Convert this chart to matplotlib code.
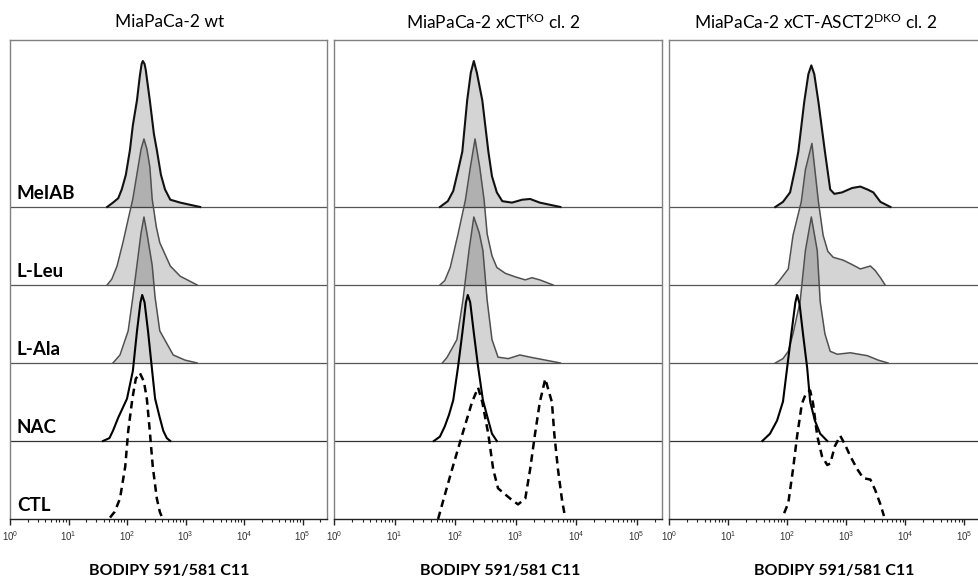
import numpy as np
import matplotlib
matplotlib.use("Agg")
import matplotlib.pyplot as plt
from matplotlib.ticker import FixedLocator, LogLocator, NullFormatter

plt.rcParams['font.family'] = ['Lato', 'DejaVu Sans']
plt.rcParams['mathtext.default'] = 'regular'

panel_titles = ["MiaPaCa-2 wt",
                "MiaPaCa-2 xCT$^{KO}$ cl. 2",
                "MiaPaCa-2 xCT-ASCT2$^{DKO}$ cl. 2"]
row_labels = ["MeIAB", "L-Leu", "L-Ala", "NAC", "CTL"]
x_label = "BODIPY 591/581 C11"
decade_ticks = [1e0, 1e1, 1e2, 1e3, 1e4, 1e5]
decade_labels = ["$10^{%d}$" % i for i in range(6)]

# histograms: log10 intensity, height in % of peak
wt_meiab_logx = [1.66, 1.76, 1.85, 1.91, 1.98, 2.05, 2.10, 2.17, 2.22, 2.25, 2.27, 2.30, 2.32, 2.39, 2.46, 2.51, 2.58, 2.65, 2.74, 2.91, 3.08, 3.25]
wt_meiab_h = [0, 3, 6, 12, 22, 39, 56, 73, 90, 98, 100, 98, 94, 73, 50, 39, 22, 12, 5, 3, 1.5, 0]
wt_leu_logx = [1.66, 1.74, 1.83, 1.93, 2.02, 2.10, 2.17, 2.24, 2.29, 2.34, 2.39, 2.43, 2.50, 2.56, 2.74, 2.91, 3.20]
wt_leu_h = [0, 4, 13, 29, 45, 59, 76, 93, 100, 93, 81, 59, 40, 29, 13, 6, 0]
wt_ala_logx = [1.76, 1.88, 2.02, 2.10, 2.17, 2.24, 2.29, 2.34, 2.43, 2.48, 2.56, 2.79, 2.99, 3.20]
wt_ala_h = [0, 5.5, 22, 45, 67, 89, 100, 89, 67, 45, 22, 5.5, 2, 0]
wt_nac_logx = [1.59, 1.70, 1.76, 1.85, 2.00, 2.10, 2.17, 2.23, 2.26, 2.30, 2.36, 2.43, 2.48, 2.56, 2.62, 2.68, 2.74]
wt_nac_h = [0, 2, 7, 16, 29, 48, 75, 95, 100, 95, 75, 48, 29, 16, 7, 2, 0]
wt_ctl_logx = [1.71, 1.79, 1.88, 1.97, 2.02, 2.09, 2.15, 2.22, 2.29, 2.34, 2.39, 2.44, 2.51, 2.56, 2.60]
wt_ctl_h = [1, 5, 14, 36, 60, 82, 96, 100, 94, 82, 60, 36, 14, 5, 1]

ko_meiab_logx = [1.75, 1.88, 1.97, 2.05, 2.12, 2.20, 2.26, 2.31, 2.36, 2.45, 2.55, 2.61, 2.69, 2.78, 2.94, 3.11, 3.24, 3.40, 3.57, 3.74]
ko_meiab_h = [0, 4, 11, 25, 38, 73, 92, 100, 92, 73, 38, 21, 10, 4, 3, 5, 5.5, 3, 1.5, 0]
ko_leu_logx = [1.75, 1.83, 1.92, 2.05, 2.17, 2.25, 2.33, 2.41, 2.48, 2.53, 2.61, 2.69, 2.83, 3.00, 3.16, 3.27, 3.40, 3.62]
ko_leu_h = [0, 3, 12, 35, 58, 80, 100, 80, 58, 35, 20, 12, 8, 5.5, 3.5, 5, 3.5, 0]
ko_ala_logx = [1.79, 1.87, 2.03, 2.13, 2.23, 2.31, 2.40, 2.46, 2.53, 2.61, 2.71, 2.88, 3.07, 3.24, 3.49, 3.74]
ko_ala_h = [0, 4, 16, 43, 77, 100, 89, 77, 43, 16, 4, 3, 5.5, 4, 2, 0]
ko_nac_logx = [1.65, 1.75, 1.83, 1.90, 1.97, 2.05, 2.12, 2.18, 2.21, 2.25, 2.31, 2.38, 2.46, 2.55, 2.61, 2.69]
ko_nac_h = [0, 3, 10, 18, 28, 51, 74, 95, 100, 95, 74, 51, 28, 14, 5, 0]
ko_ctl_logx = [1.72, 1.80, 1.95, 2.12, 2.28, 2.38, 2.45, 2.55, 2.63, 2.71, 2.91, 3.04, 3.16, 3.24, 3.32, 3.40, 3.49, 3.60, 3.64, 3.70, 3.77, 3.82]
ko_ctl_h = [0, 12, 34, 58, 80, 90, 80, 58, 34, 21, 14, 10, 14, 34, 58, 80, 96, 80, 58, 34, 12, 1]

dko_meiab_logx = [1.80, 1.93, 2.05, 2.14, 2.19, 2.29, 2.36, 2.41, 2.46, 2.53, 2.64, 2.73, 2.80, 2.93, 3.10, 3.24, 3.36, 3.46, 3.58, 3.75]
dko_meiab_h = [0, 3.5, 10, 27, 38, 72, 91, 97, 91, 72, 38, 12, 9, 10, 13, 14, 12, 10, 3.5, 0]
dko_leu_logx = [1.80, 1.85, 2.02, 2.10, 2.24, 2.31, 2.42, 2.47, 2.53, 2.61, 2.69, 2.78, 2.95, 3.10, 3.24, 3.41, 3.49, 3.58, 3.66]
dko_leu_h = [0, 2, 11, 34, 57, 79, 97, 79, 57, 34, 23, 19, 17, 14, 11, 13, 10, 5, 0]
dko_ala_logx = [1.80, 1.93, 2.02, 2.10, 2.22, 2.31, 2.41, 2.51, 2.56, 2.64, 2.73, 2.85, 3.07, 3.36, 3.54, 3.71]
dko_ala_h = [0, 3, 8, 20, 42, 77, 100, 77, 42, 20, 8, 6, 7, 5, 2, 0]
dko_nac_logx = [1.58, 1.71, 1.83, 1.93, 2.00, 2.07, 2.14, 2.17, 2.21, 2.27, 2.34, 2.39, 2.47, 2.56, 2.68]
dko_nac_h = [0, 5, 14, 27, 50, 73, 95, 100, 94, 73, 50, 27, 14, 5, 0]
dko_ctl_logx = [1.95, 2.02, 2.10, 2.17, 2.25, 2.32, 2.39, 2.44, 2.51, 2.59, 2.68, 2.73, 2.81, 2.90, 2.98, 3.07, 3.19, 3.29, 3.41, 3.49, 3.58, 3.64]
dko_ctl_h = [4, 11, 34, 57, 79, 86, 88, 79, 57, 43, 37, 38, 50, 57, 51, 43, 34, 28, 27, 20, 10, 2]

panels = [
    [(wt_meiab_logx, wt_meiab_h), (wt_leu_logx, wt_leu_h), (wt_ala_logx, wt_ala_h),
     (wt_nac_logx, wt_nac_h), (wt_ctl_logx, wt_ctl_h)],
    [(ko_meiab_logx, ko_meiab_h), (ko_leu_logx, ko_leu_h), (ko_ala_logx, ko_ala_h),
     (ko_nac_logx, ko_nac_h), (ko_ctl_logx, ko_ctl_h)],
    [(dko_meiab_logx, dko_meiab_h), (dko_leu_logx, dko_leu_h), (dko_ala_logx, dko_ala_h),
     (dko_nac_logx, dko_nac_h), (dko_ctl_logx, dko_ctl_h)],
]

W, H = 979, 581
top_px, axis_px, row_px = 40, 519, 78
peak_rows = 146 / row_px
panel_px = [(10, 327), (334, 662), (669, 989)]
title_x = [170, 493, 816]
xlabel_x = [169, 500, 834]

fig = plt.figure(figsize=(W / 100, H / 100), dpi=100)

for p, (left, right) in enumerate(panel_px):
    ax = fig.add_axes([left / W, (H - axis_px) / H, (right - left) / W, (axis_px - top_px) / H])
    ax.set_xscale('log')
    ax.set_xlim(1, 262144)
    ax.set_ylim(0, (axis_px - top_px) / row_px)

    for r, (logx, h) in enumerate(panels[p]):
        off = 4 - r
        x = 10 ** np.array(logx)
        y = off + np.array(h) / 100 * peak_rows
        if r < 3:
            ax.axhline(off, color='#555555', lw=0.9, zorder=1)
            ax.fill_between(x, off, y, color='black', alpha=0.17, lw=0, zorder=2)
            ax.plot(x, y, color='#111111' if r == 0 else '#505050',
                    lw=1.5 if r == 0 else 1.1, zorder=3, solid_joinstyle='round')
        elif r == 3:
            ax.axhline(off, color='#333333', lw=0.9, zorder=1)
            ax.plot(x, y, color='black', lw=1.5, zorder=4, solid_joinstyle='round')
        else:
            ax.plot(x, y, color='black', lw=1.8, dashes=(3, 2), zorder=4)
        if p == 0:
            ax.text(0.022, off + 0.1, row_labels[r], transform=ax.get_yaxis_transform(),
                    fontsize=13.5, fontweight='bold', va='baseline', ha='left')

    for side in ['top', 'left', 'right']:
        ax.spines[side].set_color('#808080')
        ax.spines[side].set_linewidth(1.0)
    ax.spines['bottom'].set_color('#222222')
    ax.spines['bottom'].set_linewidth(1.0)
    ax.set_yticks([])
    ax.xaxis.set_major_locator(FixedLocator(decade_ticks))
    ax.set_xticklabels(decade_labels, fontsize=7, family='Liberation Sans', color='#333333')
    ax.xaxis.set_minor_locator(LogLocator(base=10, subs=np.arange(2, 10), numticks=20))
    ax.xaxis.set_minor_formatter(NullFormatter())
    ax.tick_params(axis='x', which='major', direction='out', length=4, width=1, pad=3, color='#222222')
    ax.tick_params(axis='x', which='minor', direction='out', length=2.5, width=0.8, color='#222222')

    fig.text(title_x[p] / W, 1 - 22 / H, panel_titles[p], fontsize=12.5, ha='center', va='center')
    fig.text(xlabel_x[p] / W, 1 - 571 / H, x_label, fontsize=11.5, fontweight='bold',
             ha='center', va='center')

fig.savefig("out.png", dpi=100)
